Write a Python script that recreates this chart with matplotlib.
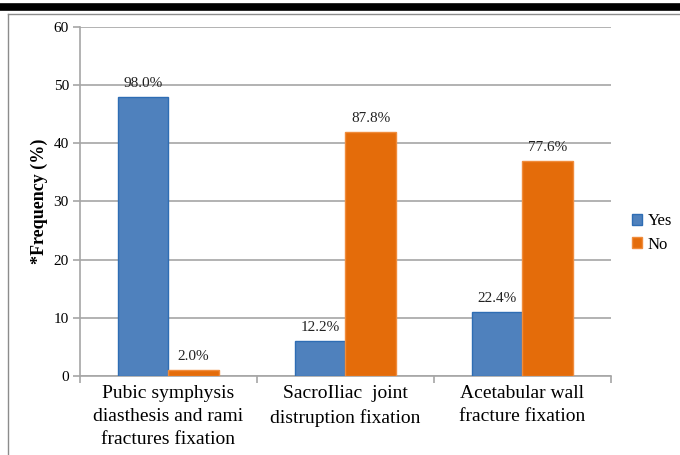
import numpy as np
import matplotlib.pyplot as plt
from matplotlib.lines import Line2D

plt.rcParams['font.family'] = ['Liberation Serif', 'DejaVu Serif']

categories = ['Pubic symphysis\ndiasthesis and rami\nfractures fixation',
              'SacroIliac  joint\ndistruption fixation',
              'Acetabular wall\nfracture fixation']
yes_counts = [48, 6, 11]
no_counts = [1, 42, 37]
yes_labels = ['98.0%', '12.2%', '22.4%']
no_labels = ['2.0%', '87.8%', '77.6%']

blue = '#4F81BD'
orange = '#E46C0A'

fig = plt.figure(figsize=(6.8, 4.55), dpi=100)
ax = fig.add_axes([0.1176, 0.1743, 0.7809, 0.7657])

x = np.arange(len(categories))
w = 0.283
b1 = ax.bar(x - w / 2, yes_counts, w, color=blue, edgecolor='#2E6DB4', linewidth=1.0, label='Yes', zorder=3)
b2 = ax.bar(x + w / 2, no_counts, w, color=orange, edgecolor='#F08C3C', linewidth=1.0, label='No', zorder=3)

# percentage labels above each bar
for bars, labels in ((b1, yes_labels), (b2, no_labels)):
    for rect, lab in zip(bars, labels):
        ax.annotate(lab, (rect.get_x() + rect.get_width() / 2, rect.get_height()),
                    xytext=(0, 5), textcoords='offset points',
                    ha='center', va='bottom', fontsize=11, color='#222222')

ax.set_xlim(-0.5, len(categories) - 0.5)
ax.set_ylim(0, 60)
ax.set_yticks(range(0, 61, 10))
ax.yaxis.grid(True, color='#A6A6A6', linewidth=1.2, zorder=0)
ax.set_axisbelow(True)

ax.set_xticks(x)
ax.set_xticklabels(categories, fontsize=14, linespacing=1.45)
ax.tick_params(axis='x', length=0, pad=7)
ax.set_xticks(np.arange(-0.5, len(categories)), minor=True)
ax.tick_params(axis='x', which='minor', length=5, color='#A6A6A6', width=1.2)
ax.tick_params(axis='y', length=5, color='#A6A6A6', width=1.2, labelsize=11, pad=3)

for side in ('top', 'right'):
    ax.spines[side].set_visible(False)
for side in ('left', 'bottom'):
    ax.spines[side].set_color('#A6A6A6')
    ax.spines[side].set_linewidth(1.2)

ax.set_ylabel('*Frequency (%)', fontsize=13, fontweight='bold', labelpad=4)

ax.legend(loc='center left', bbox_to_anchor=(1.012, 0.41), frameon=False,
          fontsize=12, handlelength=0.6, handleheight=0.6, handletextpad=0.3,
          labelspacing=0.45)

# page frame around the chart
fig.add_artist(Line2D([0.0, 1.0], [0.985, 0.985], transform=fig.transFigure,
                      color='black', linewidth=5.5))
fig.add_artist(Line2D([0.012, 1.0], [0.969, 0.969], transform=fig.transFigure,
                      color='#8C8C8C', linewidth=1.0))
fig.add_artist(Line2D([0.012, 0.012], [0.0, 0.969], transform=fig.transFigure,
                      color='#8C8C8C', linewidth=1.0))

fig.savefig('out.png', dpi=100)
